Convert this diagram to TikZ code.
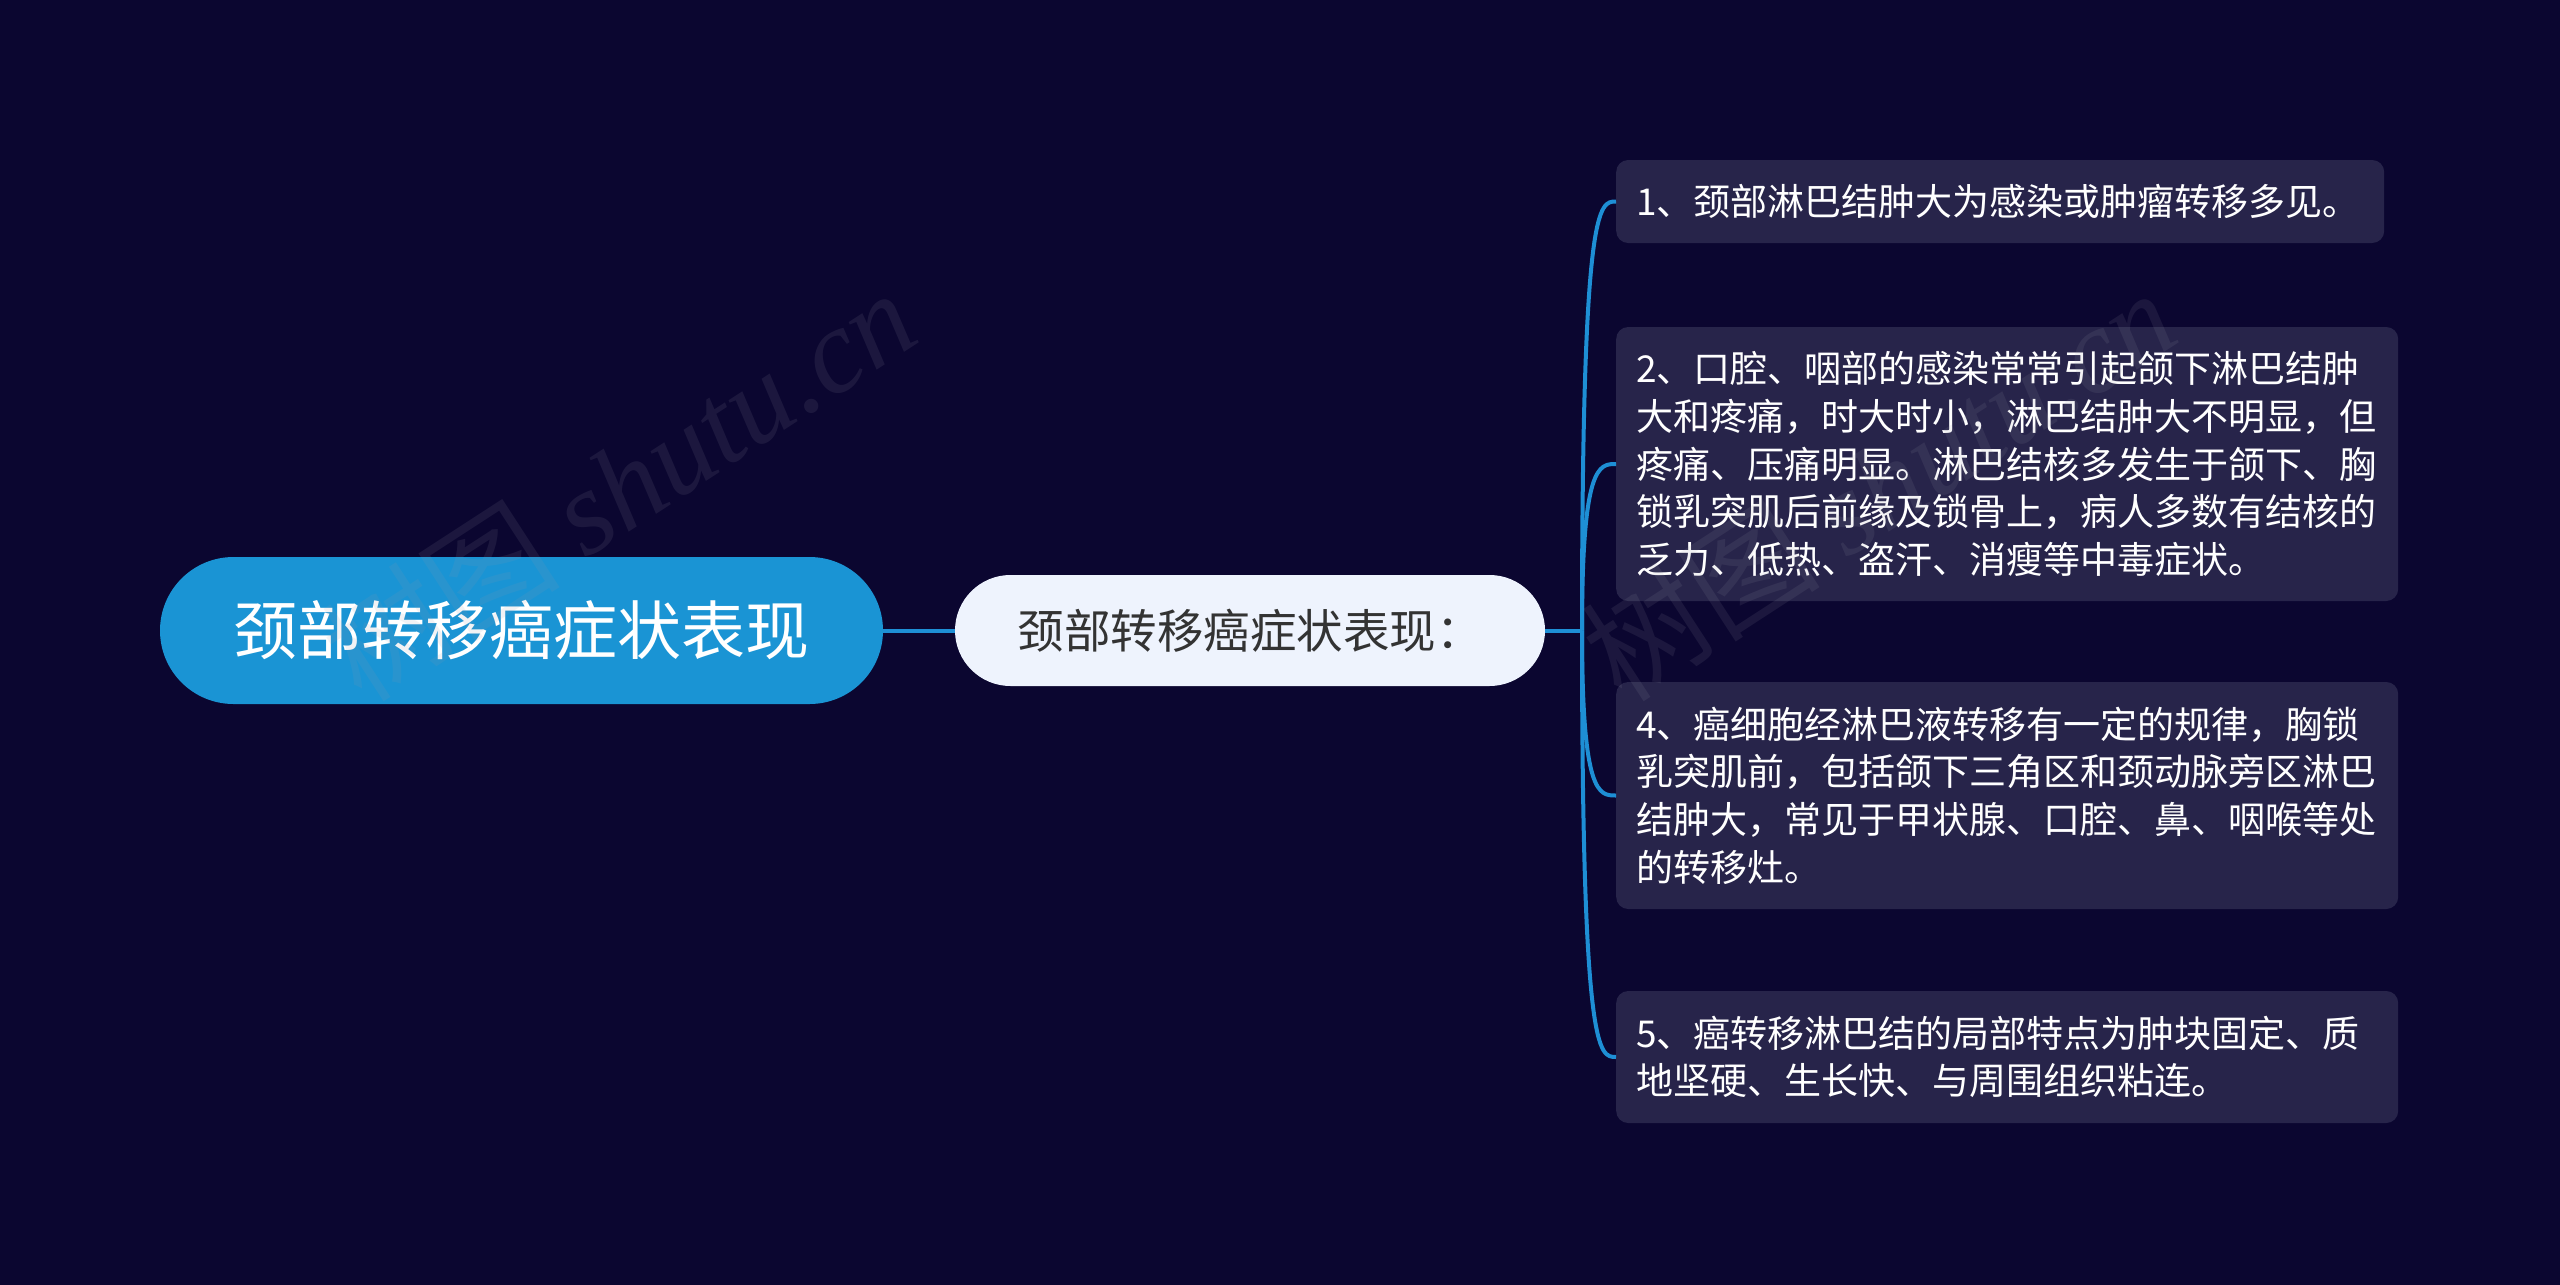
\documentclass[tikz,border=0pt]{standalone}
\usepackage{fontspec}
\setmainfont{Noto Sans CJK SC}
\newfontfamily\cjkfont{Noto Sans CJK SC}
\newfontfamily\wmserif{Liberation Serif}
\usetikzlibrary{shapes.misc,calc}
\definecolor{bg}{HTML}{0B0630}
\definecolor{rootblue}{HTML}{1A94D4}
\definecolor{linkblue}{HTML}{1E8FD5}
\definecolor{subfill}{HTML}{EEF3FD}
\definecolor{subtext}{HTML}{333333}
\definecolor{leaffill}{HTML}{27244A}
\definecolor{wmgray}{HTML}{9A9AA8}
\begin{document}
\begin{tikzpicture}[x=1pt,y=-1pt,
  rootnode/.style={rounded rectangle, fill=rootblue, text=white, minimum width=723pt, minimum height=147pt, inner sep=0pt, font=\fontsize{64}{76}\selectfont},
  subnode/.style={rounded rectangle, fill=subfill, text=subtext, minimum width=590pt, minimum height=111pt, inner sep=0pt, font=\fontsize{46.5}{54}\selectfont},
  leafnode/.style={fill=leaffill, text=white, rounded corners=12pt, anchor=west, align=left, inner xsep=20pt, inner ysep=0pt, font=\fontsize{37}{47.7}\selectfont},
  link/.style={draw=linkblue, line width=4pt},
  watermark/.style={text=wmgray, text opacity=0.12, inner sep=0pt, anchor=base west, rotate=33, font=\fontsize{120}{130}\selectfont}
]
\fill[bg] (0,0) rectangle (2560,1285);
\useasboundingbox (0,0) rectangle (2560,1285);

\node[rootnode] (root) at (521.5,630.5) {颈部转移癌症状表现};
\node[subnode] (sub) at (1250,630.5) {颈部转移癌症状表现：};

\node[leafnode, minimum width=768pt, minimum height=83pt, text width=728pt] (b1) at (1616,201.5)
  {1、颈部淋巴结肿大为感染或肿瘤转移多见。};
\node[leafnode, minimum width=782pt, minimum height=274pt, text width=742pt] (b2) at (1616,464)
  {2、口腔、咽部的感染常常引起颌下淋巴结肿\\大和疼痛，时大时小，淋巴结肿大不明显，但\\疼痛、压痛明显。淋巴结核多发生于颌下、胸\\锁乳突肌后前缘及锁骨上，病人多数有结核的\\乏力、低热、盗汗、消瘦等中毒症状。};
\node[leafnode, minimum width=782pt, minimum height=227pt, text width=742pt] (b4) at (1616,795.5)
  {4、癌细胞经淋巴液转移有一定的规律，胸锁\\乳突肌前，包括颌下三角区和颈动脉旁区淋巴\\结肿大，常见于甲状腺、口腔、鼻、咽喉等处\\的转移灶。};
\node[leafnode, minimum width=782pt, minimum height=132pt, text width=742pt] (b5) at (1616,1057)
  {5、癌转移淋巴结的局部特点为肿块固定、质\\地坚硬、生长快、与周围组织粘连。};

\coordinate (trunk) at (1582,630.5);
\draw[link] (root.east) -- (sub.west);
\draw[link] (sub.east) -- (trunk);
\foreach \b in {b1,b2,b4,b5}{
  \draw[link] (trunk) .. controls (trunk |- \b.west) and ($(trunk |- \b.west)!0.5!(\b.west)$) .. (\b.west);
}

\node[watermark] (wm1) at (362,705) {{\cjkfont 树图} {\wmserif\itshape shutu.cn}};
\node[watermark] (wm2) at (1622,705) {{\cjkfont 树图} {\wmserif\itshape shutu.cn}};
\end{tikzpicture}
\end{document}
